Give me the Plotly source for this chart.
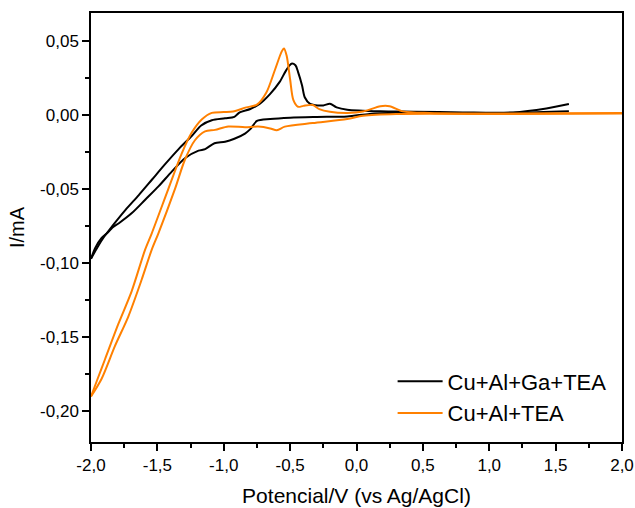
import plotly.graph_objects as go

# ---- data ----
# Cu+Al+Ga+TEA : forward (upper) branch
black_fwd_x = [-2.0, -1.95, -1.90, -1.84, -1.74, -1.64, -1.54, -1.44, -1.34, -1.24, -1.17,
               -1.09, -0.99, -0.92, -0.88, -0.80, -0.73, -0.65, -0.58, -0.53, -0.49, -0.46,
               -0.44, -0.41, -0.39, -0.35, -0.31, -0.25, -0.20, -0.15, -0.07, 0.18, 0.43,
               0.80, 1.18, 1.43, 1.60]
black_fwd_y = [-0.097, -0.089, -0.082, -0.075, -0.064, -0.054, -0.0435, -0.033, -0.023, -0.014,
               -0.007, -0.0035, -0.0022, -0.0012, 0.0018, 0.0041, 0.0075, 0.0143, 0.0222, 0.0302,
               0.0347, 0.0336, 0.029, 0.020, 0.012, 0.0075, 0.0066, 0.0065, 0.0076, 0.0052,
               0.0036, 0.0025, 0.0023, 0.0018, 0.0018, 0.0045, 0.0075]
# Cu+Al+Ga+TEA : reverse (lower) branch
black_rev_x = [-2.0, -1.97, -1.92, -1.87, -1.84, -1.79, -1.69, -1.59, -1.49, -1.39, -1.29,
               -1.19, -1.14, -1.07, -0.99, -0.92, -0.84, -0.80, -0.75, -0.65, -0.50, -0.30,
               -0.07, 0.10, 0.30, 0.70, 1.20, 1.60]
black_rev_y = [-0.097, -0.090, -0.083, -0.079, -0.076, -0.073, -0.066, -0.057, -0.048, -0.038,
               -0.029, -0.024, -0.023, -0.019, -0.018, -0.016, -0.0125, -0.0095, -0.004,
               -0.0027, -0.0018, -0.0013, -0.0009, 0.0008, 0.0015, 0.0014, 0.0015, 0.0025]

# Cu+Al+TEA : forward (upper) branch
orange_fwd_x = [-2.0, -1.95, -1.895, -1.794, -1.694, -1.593, -1.543, -1.418, -1.317, -1.242,
                -1.166, -1.09, -1.0, -0.93, -0.83, -0.75, -0.68, -0.614, -0.563, -0.546,
                -0.526, -0.50, -0.476, -0.44, -0.40, -0.33, -0.28, -0.20, -0.07, 0.05, 0.18,
                0.25, 0.35, 0.55, 1.18, 2.0]
orange_fwd_y = [-0.190, -0.178, -0.165, -0.141, -0.119, -0.091, -0.080, -0.050, -0.026, -0.012,
                -0.003, 0.0015, 0.002, 0.0024, 0.0052, 0.007, 0.015, 0.0306, 0.043, 0.045,
                0.040, 0.024, 0.0103, 0.0056, 0.0062, 0.0068, 0.004, 0.0022, 0.0014, 0.0024,
                0.0060, 0.0060, 0.0025, 0.0014, 0.0010, 0.0014]
# Cu+Al+TEA : reverse (lower) branch
orange_rev_x = [-2.0, -1.92, -1.82, -1.719, -1.618, -1.543, -1.493, -1.368, -1.292, -1.217,
                -1.141, -1.066, -0.966, -0.84, -0.74, -0.65, -0.60, -0.54, -0.33, -0.07,
                0.05, 0.30, 1.18, 2.0]
orange_rev_y = [-0.190, -0.178, -0.156, -0.136, -0.111, -0.091, -0.080, -0.050, -0.030, -0.017,
                -0.011, -0.010, -0.0077, -0.0082, -0.0078, -0.009, -0.0102, -0.0078, -0.0054,
                -0.0027, -0.0005, 0.0007, 0.0007, 0.0010]

series_names = ["Cu+Al+Ga+TEA", "Cu+Al+TEA"]
series_colors = ["#000000", "#FF8000"]

x_tick_vals = [-2.0, -1.5, -1.0, -0.5, 0.0, 0.5, 1.0, 1.5, 2.0]
x_tick_text = ["-2,0", "-1,5", "-1,0", "-0,5", "0,0", "0,5", "1,0", "1,5", "2,0"]
y_tick_vals = [-0.20, -0.15, -0.10, -0.05, 0.00, 0.05]
y_tick_text = ["-0,20", "-0,15", "-0,10", "-0,05", "0,00", "0,05"]

FONT = "Liberation Sans, Arial, sans-serif"

fig = go.Figure()
for name, color, fx, fy, rx, ry in [
    (series_names[0], series_colors[0], black_fwd_x, black_fwd_y, black_rev_x, black_rev_y),
    (series_names[1], series_colors[1], orange_fwd_x, orange_fwd_y, orange_rev_x, orange_rev_y),
]:
    fig.add_trace(go.Scatter(
        x=fx + [None] + rx, y=fy + [None] + ry,
        mode="lines", name=name,
        line=dict(color=color, width=2, shape="spline", smoothing=0.8),
        connectgaps=False,
    ))

axis_common = dict(
    showline=True, linecolor="black", linewidth=1.5, mirror=True,
    ticks="outside", ticklen=7, tickwidth=1.5, tickcolor="black",
    showgrid=False, zeroline=False, automargin=False,
    tickfont=dict(family=FONT, size=17, color="black"),
)

fig.update_xaxes(
    range=[-2.0, 2.0], tickmode="array", tickvals=x_tick_vals, ticktext=x_tick_text,
    minor=dict(ticks="outside", ticklen=4, tickwidth=1.5, tickcolor="black", dtick=0.25, tick0=0),
    title=dict(text="Potencial/V (vs Ag/AgCl)", font=dict(family=FONT, size=21, color="black"),
               standoff=14),
    **axis_common,
)
fig.update_yaxes(
    range=[-0.2207, 0.0689], tickmode="array", tickvals=y_tick_vals, ticktext=y_tick_text,
    minor=dict(ticks="outside", ticklen=4, tickwidth=1.5, tickcolor="black", dtick=0.025, tick0=0),
    title=dict(text="I/mA", font=dict(family=FONT, size=20, color="black"), standoff=10),
    **axis_common,
)

fig.update_layout(
    width=635, height=508,
    margin=dict(l=91, r=13, t=13, b=66),
    paper_bgcolor="white", plot_bgcolor="white",
    font=dict(family=FONT, color="black"),
    showlegend=True,
    legend=dict(x=0.568, y=0.19, xanchor="left", yanchor="top",
                bgcolor="rgba(0,0,0,0)", font=dict(family=FONT, size=22, color="black"),
                itemwidth=45, tracegroupgap=0),
)

fig.write_html("out.html")
